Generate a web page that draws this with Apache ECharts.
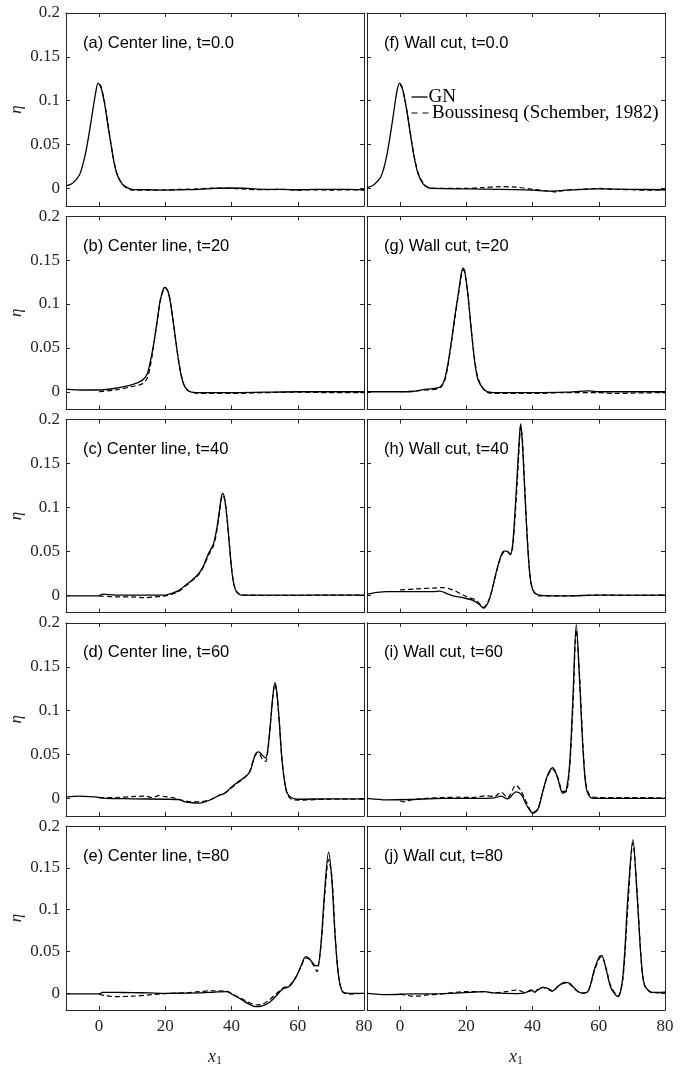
<!DOCTYPE html>
<html>
<head>
<meta charset="utf-8">
<script src="https://cdn.jsdelivr.net/npm/echarts@6/dist/echarts.min.js"></script>
<style>
html,body{margin:0;padding:0;background:#fff;}
#c{width:689px;height:1068px;}
</style>
</head>
<body>
<div id="c"></div>
<script>
// ---------- data ----------
const xTicks = [0, 20, 40, 60, 80];
const yTicks = [0, 0.05, 0.1, 0.15, 0.2];
const titles = [
  '(a) Center line, t=0.0', '(b) Center line, t=20', '(c) Center line, t=40', '(d) Center line, t=60', '(e) Center line, t=80',
  '(f) Wall cut, t=0.0', '(g) Wall cut, t=20', '(h) Wall cut, t=40', '(i) Wall cut, t=60', '(j) Wall cut, t=80'
];

const gnA = [[-10,0.003],[-8,0.006],[-6,0.015],[-5,0.026],[-4,0.042],[-3,0.063],[-2,0.087],[-1,0.11],[-0.3,0.12],[0.5,0.116],[1.5,0.1],[2.5,0.076],[3.5,0.052],[4.5,0.03],[5.5,0.015],[7,0.005],[8.5,0.001],[10,-0.001],[15,-0.0015],[20,-0.002],[25,-0.0015],[30,-0.001],[35,0],[40,0.0005],[45,0],[50,-0.001],[55,-0.001],[60,-0.0015],[65,-0.001],[70,-0.001],[75,-0.001],[80,-0.0015]];
const bqA = [[0,0.118],[0.5,0.117],[1.5,0.101],[2.5,0.078],[3.5,0.053],[4.5,0.031],[5.5,0.016],[7,0.005],[8.5,0],[10,-0.002],[15,-0.002],[20,-0.0015],[25,-0.001],[30,-0.0005],[35,0.0005],[40,0],[45,-0.001],[50,-0.0015],[55,-0.001],[60,-0.002],[65,-0.0015],[70,-0.002],[75,-0.0015],[80,-0.002]];

const gnB = [[-10,0.003],[-5,0.002],[0,0.002],[5,0.004],[10,0.008],[13,0.013],[14.5,0.02],[15.5,0.035],[16.5,0.055],[17.5,0.08],[18.5,0.105],[19.5,0.118],[20,0.119],[21,0.112],[22,0.09],[23,0.062],[24,0.035],[25,0.015],[26,0.005],[27.5,0],[30,-0.001],[40,-0.001],[50,-0.0005],[60,0],[70,0],[80,0]];
const bqB = [[0,0],[5,0.002],[10,0.006],[13,0.009],[14.5,0.015],[15.5,0.03],[16.5,0.053],[17.5,0.079],[18.5,0.104],[19.5,0.117],[20,0.118],[21,0.112],[22,0.091],[23,0.063],[24,0.036],[25,0.016],[26,0.005],[27.5,0],[30,-0.002],[40,-0.002],[50,-0.001],[60,-0.0005],[70,-0.001],[80,-0.001]];

const gnC = [[-10,-0.001],[-5,-0.001],[0,-0.001],[1,0.001],[5,0],[10,0],[15,0],[20,0],[22,0.002],[24,0.005],[26,0.011],[28,0.017],[30,0.024],[31.5,0.033],[33,0.047],[34.5,0.058],[35.5,0.075],[36.3,0.095],[37,0.113],[37.4,0.116],[38,0.108],[38.7,0.085],[39.4,0.055],[40,0.03],[40.7,0.012],[41.5,0.004],[43,0],[50,0],[60,0],[70,0],[80,0]];
const bqC = [[0,-0.001],[5,-0.002],[10,-0.002],[13.5,-0.003],[17,-0.002],[20,-0.001],[22,0.001],[24,0.004],[26,0.01],[28,0.016],[30,0.023],[31.5,0.032],[33,0.045],[34.5,0.056],[35.5,0.072],[36.3,0.093],[37,0.111],[37.4,0.114],[38,0.107],[38.7,0.085],[39.4,0.056],[40,0.031],[40.7,0.013],[41.5,0.004],[43,0],[50,-0.0005],[60,-0.0005],[70,0],[80,0]];

const gnD = [[-10,0.0013],[-6,0.0025],[-3,0.002],[0,0.001],[2,0],[10,-0.0005],[20,-0.001],[24,-0.0013],[26,-0.004],[28,-0.005],[30,-0.0055],[32,-0.004],[34,-0.001],[36,0.003],[38,0.006],[40,0.013],[42,0.019],[44,0.024],[45.5,0.03],[46.5,0.042],[47.3,0.051],[48.2,0.053],[49.3,0.049],[50.3,0.046],[51,0.058],[51.8,0.088],[52.5,0.118],[53.1,0.132],[53.7,0.12],[54.4,0.088],[55.1,0.05],[55.9,0.022],[56.8,0.006],[58,0.001],[60,-0.001],[70,-0.0005],[80,-0.0005]];
const bqD = [[0,0.0005],[5,0.001],[10,0.002],[14,0.0025],[16,0.001],[18,0.003],[20,0.002],[22,0.001],[24,-0.001],[26,-0.003],[28,-0.004],[30,-0.004],[32,-0.003],[34,-0.001],[36,0.003],[38,0.006],[40,0.012],[42,0.018],[44,0.024],[45.5,0.031],[46.5,0.043],[47.3,0.05],[48.2,0.051],[49.3,0.045],[50.3,0.042],[51,0.055],[51.8,0.087],[52.5,0.117],[53.1,0.13],[53.7,0.119],[54.4,0.088],[55.1,0.05],[55.9,0.022],[56.8,0.005],[58,-0.001],[60,-0.002],[70,-0.001],[80,-0.001]];

const gnE = [[-10,-0.0008],[-5,-0.0008],[0,-0.0008],[1,0.001],[5,0.001],[10,0.0008],[15,0.0005],[20,0],[25,0.0002],[30,0.0005],[35,0.0015],[38.5,0.002],[40.3,-0.0015],[42.8,-0.007],[45.3,-0.013],[47.3,-0.016],[49.3,-0.015],[51.4,-0.011],[53.4,-0.0035],[55.4,0.005],[57.4,0.008],[59.4,0.019],[61,0.033],[62.4,0.044],[63.4,0.042],[65,0.034],[66,0.033],[67,0.059],[68,0.116],[69.3,0.169],[70.3,0.135],[71.3,0.067],[72.3,0.021],[73.5,0.002],[75.5,0],[80,0]];
const bqE = [[0,-0.001],[2,-0.003],[5,-0.004],[10,-0.0035],[15,-0.002],[18,-0.001],[22,0],[26,0.0005],[30,0.002],[34,0.003],[38.5,0.0025],[40.3,-0.001],[42.8,-0.006],[45.3,-0.011],[47.3,-0.014],[49.3,-0.013],[51.4,-0.008],[53.4,-0.001],[55.4,0.006],[57.4,0.009],[59.4,0.019],[61,0.032],[62.4,0.042],[63.4,0.041],[65,0.032],[65.8,0.026],[66.5,0.04],[67.3,0.07],[68.2,0.12],[69.3,0.16],[70.3,0.14],[71.3,0.07],[72.3,0.022],[73.5,0.002],[75.5,-0.001],[80,0]];

const gnF = [[-10,0.001],[-8,0.004],[-6,0.012],[-5,0.022],[-4,0.038],[-3,0.06],[-2,0.085],[-1,0.11],[-0.2,0.12],[0.6,0.115],[1.5,0.1],[2.5,0.077],[3.5,0.052],[4.5,0.031],[5.5,0.016],[7,0.005],[8.5,0.001],[10,0],[20,-0.0005],[30,-0.001],[40,-0.002],[45,-0.003],[50,-0.002],[55,-0.001],[60,-0.0005],[70,-0.001],[80,-0.0015]];
const bqF = [[0,0.118],[0.6,0.115],[1.5,0.1],[2.5,0.078],[3.5,0.053],[4.5,0.032],[5.5,0.017],[7,0.006],[8.5,0.001],[10,0],[20,0],[25,0.001],[30,0.002],[35,0.0015],[40,-0.001],[45,-0.003],[47,-0.004],[50,-0.002],[55,-0.001],[60,0],[65,-0.001],[70,-0.0015],[75,-0.002],[80,-0.0015]];

const gnG = [[-10,0],[-5,0],[0,0],[3,0],[5,0.001],[8,0.003],[11,0.004],[12.5,0.007],[13.5,0.015],[14.5,0.033],[15.5,0.058],[16.5,0.085],[17.5,0.11],[18.5,0.135],[19,0.141],[19.5,0.138],[20.5,0.11],[21.5,0.07],[22.5,0.035],[23.5,0.014],[25,0.004],[26.5,0],[30,-0.001],[40,-0.001],[50,-0.0005],[57,0.001],[60,0],[70,0],[80,0]];
const bqG = [[0,0],[5,0.001],[8,0.002],[11,0.003],[12.5,0.006],[13.5,0.013],[14.5,0.031],[15.5,0.056],[16.5,0.083],[17.5,0.108],[18.5,0.133],[19,0.139],[19.5,0.136],[20.5,0.109],[21.5,0.071],[22.5,0.037],[23.5,0.016],[25,0.004],[26.5,-0.001],[30,-0.002],[40,-0.002],[50,-0.001],[60,-0.001],[65,-0.002],[70,-0.0015],[80,-0.001]];

const gnH = [[-10,0.001],[-7,0.003],[-4,0.004],[0,0.004],[5,0.004],[10,0.004],[12,0.0045],[14,0.002],[16,-0.001],[19,-0.003],[22,-0.006],[24,-0.011],[25.2,-0.015],[26.5,-0.009],[27.5,0.002],[28.5,0.018],[29.5,0.033],[30.5,0.045],[31.3,0.05],[32.2,0.05],[33.3,0.046],[34,0.058],[34.7,0.095],[35.4,0.14],[36,0.178],[36.4,0.195],[36.9,0.175],[37.5,0.13],[38.2,0.078],[38.9,0.035],[39.6,0.012],[40.5,0.003],[42,0],[50,-0.001],[60,0],[70,0],[80,0]];
const bqH = [[0,0.006],[5,0.007],[10,0.008],[13,0.0085],[15,0.007],[17,0.004],[19,0],[21,-0.003],[23,-0.006],[25.2,-0.014],[26.5,-0.008],[27.5,0.002],[28.5,0.017],[29.5,0.032],[30.5,0.044],[31.3,0.049],[32.2,0.05],[33.3,0.047],[34,0.055],[34.7,0.088],[35.4,0.13],[36,0.172],[36.4,0.192],[36.9,0.18],[37.5,0.135],[38.2,0.08],[38.9,0.037],[39.6,0.013],[40.5,0.003],[42,-0.001],[50,-0.001],[60,0],[70,-0.0005],[80,0]];

const gnI = [[-10,0],[-4,-0.0017],[3,-0.0013],[13,0],[23.5,0],[28.5,0.0006],[30.5,0.0025],[32.5,-0.0006],[35,0.0074],[36.6,0.0044],[38.1,-0.007],[40.1,-0.017],[41.6,-0.0127],[43.1,0.008],[44.6,0.027],[46.1,0.035],[47.6,0.023],[49.1,0.006],[50.1,0.008],[51.2,0.039],[52.2,0.115],[53.2,0.198],[54.2,0.134],[55.2,0.058],[56.2,0.012],[57.7,0.0006],[60,0],[70,0],[80,0]];
const bqI = [[0,-0.003],[1.5,-0.004],[3,-0.002],[8,0],[13,0.001],[18,0.0013],[22,0.001],[26,0.003],[28.5,0.002],[30.5,0.007],[32.5,0.001],[35,0.015],[36.6,0.008],[38.1,-0.004],[40.1,-0.016],[41.6,-0.012],[43.1,0.008],[44.6,0.026],[46.1,0.033],[47.6,0.024],[49.1,0.008],[50.1,0.008],[51.2,0.035],[52.2,0.105],[53.2,0.192],[54.2,0.14],[55.2,0.063],[56.2,0.015],[57.7,0.002],[60,0.001],[70,0.001],[80,0.0005]];

const gnJ = [[-10,0],[-4,-0.0015],[3,-0.0008],[13,-0.0004],[18.4,0.0004],[25.5,0.002],[28.5,0.0004],[35.5,-0.0004],[37.6,0.0004],[39.6,0.004],[40.6,0.0015],[41.6,0.004],[43.1,0.007],[44.6,0.006],[46.1,0.003],[47.6,0.008],[49.6,0.013],[51.2,0.012],[52.7,0.006],[54.7,0.0004],[56.7,0.002],[58.7,0.029],[60.2,0.044],[60.9,0.045],[62.2,0.029],[63.7,0.006],[65.8,-0.004],[67.3,0.021],[68.8,0.116],[70.3,0.184],[71.6,0.116],[72.8,0.04],[73.8,0.01],[75.8,0.0015],[77.8,0.001],[80,0.0015]];
const bqJ = [[0,-0.001],[3,-0.003],[5,-0.0035],[8,-0.002],[12,-0.001],[16,0.001],[20,0.002],[25,0.002],[28,0.0005],[32,0.002],[35.5,0.004],[37.6,0.001],[39.6,0.003],[40.6,0.001],[41.6,0.005],[43.1,0.007],[44.6,0.005],[46.1,0.002],[47.6,0.008],[49.6,0.012],[51.2,0.011],[52.7,0.005],[54.7,0],[56.7,0.002],[58.7,0.027],[60.2,0.042],[60.9,0.044],[62.2,0.03],[63.7,0.008],[65.8,-0.003],[67.3,0.018],[68.8,0.105],[70.3,0.18],[71.6,0.12],[72.8,0.042],[73.8,0.01],[75.8,0.001],[77.8,0.0005],[80,0.001]];

const gnSets = [gnA, gnB, gnC, gnD, gnE, gnF, gnG, gnH, gnI, gnJ];
const bqSets = [bqA, bqB, bqC, bqD, bqE, bqF, bqG, bqH, bqI, bqJ];
const nameGN = 'GN';
const nameBQ = 'Boussinesq (Schember, 1982)';

// ---------- layout ----------
const colLeft = [66, 367];
const plotW = 298;
const rowTop = [13, 216.3, 419.6, 622.9, 826.2];
const plotH = 193;
const axisColor = '#262626';
const serif = '"Liberation Serif", "DejaVu Serif", serif';
const sans = '"Liberation Sans", Arial, sans-serif';

const grid = [], xAxis = [], yAxis = [], series = [], graphic = [];
for (let i = 0; i < 10; i++) {
  const col = Math.floor(i / 5), row = i % 5;
  grid.push({left: colLeft[col], top: rowTop[row], width: plotW, height: plotH, show: false});
  const bottomRow = row === 4, leftCol = col === 0;
  const tickBase = {show: true, inside: true, length: 4, lineStyle: {color: axisColor, width: 1}};
  xAxis.push({
    type: 'value', gridIndex: i, min: -10, max: 80, position: 'bottom',
    axisLine: {show: true, onZero: false, lineStyle: {color: axisColor, width: 1}},
    axisTick: Object.assign({customValues: xTicks}, tickBase),
    axisLabel: {show: bottomRow, customValues: xTicks, margin: 8, color: axisColor, fontFamily: serif, fontSize: 17},
    splitLine: {show: false},
    name: bottomRow ? '{i|x}{s|1}' : '', nameLocation: 'middle', nameGap: 37,
    nameTextStyle: {rich: {i: {fontFamily: serif, fontStyle: 'italic', fontSize: 18, color: axisColor}, s: {fontFamily: serif, fontSize: 12, color: axisColor, verticalAlign: 'bottom', padding: [8, 0, 0, 0]}}}
  });
  xAxis.push({
    type: 'value', gridIndex: i, min: -10, max: 80, position: 'top',
    axisLine: {show: true, onZero: false, lineStyle: {color: axisColor, width: 1}},
    axisTick: Object.assign({customValues: xTicks}, tickBase),
    axisLabel: {show: false}, splitLine: {show: false}
  });
  yAxis.push({
    type: 'value', gridIndex: i, min: -0.02, max: 0.2, position: 'left',
    axisLine: {show: true, onZero: false, lineStyle: {color: axisColor, width: 1}},
    axisTick: Object.assign({customValues: yTicks}, tickBase),
    axisLabel: {show: leftCol, customValues: yTicks, margin: 6, color: axisColor, fontFamily: serif, fontSize: 17,
      formatter: v => String(Math.round(v * 1000) / 1000)},
    splitLine: {show: false},
    name: leftCol ? 'η' : '', nameLocation: 'middle', nameGap: 41, nameRotate: 90,
    nameTextStyle: {fontFamily: serif, fontStyle: 'italic', fontSize: 17, color: axisColor}
  });
  yAxis.push({
    type: 'value', gridIndex: i, min: -0.02, max: 0.2, position: 'right',
    axisLine: {show: true, onZero: false, lineStyle: {color: axisColor, width: 1}},
    axisTick: Object.assign({customValues: yTicks}, tickBase),
    axisLabel: {show: false}, splitLine: {show: false}
  });
  series.push({
    name: nameGN, type: 'line', xAxisIndex: 2 * i, yAxisIndex: 2 * i, data: gnSets[i],
    showSymbol: false, symbol: 'none', smooth: 0.3, animation: false,
    lineStyle: {color: '#000', width: 1.3, type: 'solid'}, itemStyle: {color: '#000'}, z: 3
  });
  series.push({
    name: nameBQ, type: 'line', xAxisIndex: 2 * i, yAxisIndex: 2 * i, data: bqSets[i],
    showSymbol: false, symbol: 'none', smooth: 0.3, animation: false,
    lineStyle: {color: '#000', width: 1.2, type: [5, 3]}, itemStyle: {color: '#000'}, z: 2
  });
  graphic.push({
    type: 'text', x: colLeft[col] + 17, y: rowTop[row] + 30,
    style: {text: titles[i], font: '16.5px ' + sans, fill: '#000', verticalAlign: 'middle', align: 'left'}
  });
}

// legend key (drawn in panel f)
graphic.push(
  {type: 'line', shape: {x1: 411.5, y1: 97, x2: 427.5, y2: 97}, style: {stroke: '#000', lineWidth: 1.3}},
  {type: 'text', x: 428.5, y: 97, style: {text: nameGN, font: '19px ' + serif, fill: '#000', verticalAlign: 'middle', align: 'left'}},
  {type: 'line', shape: {x1: 411.5, y1: 113, x2: 430, y2: 113}, style: {stroke: '#000', lineWidth: 1.2, lineDash: [6, 5]}},
  {type: 'text', x: 432, y: 113, style: {text: nameBQ, font: '19px ' + serif, fill: '#000', verticalAlign: 'middle', align: 'left'}}
);

const chart = echarts.init(document.getElementById('c'), null, {renderer: 'canvas'});
chart.setOption({
  backgroundColor: '#fff',
  animation: false,
  grid, xAxis, yAxis, series, graphic
});
</script>
</body>
</html>
